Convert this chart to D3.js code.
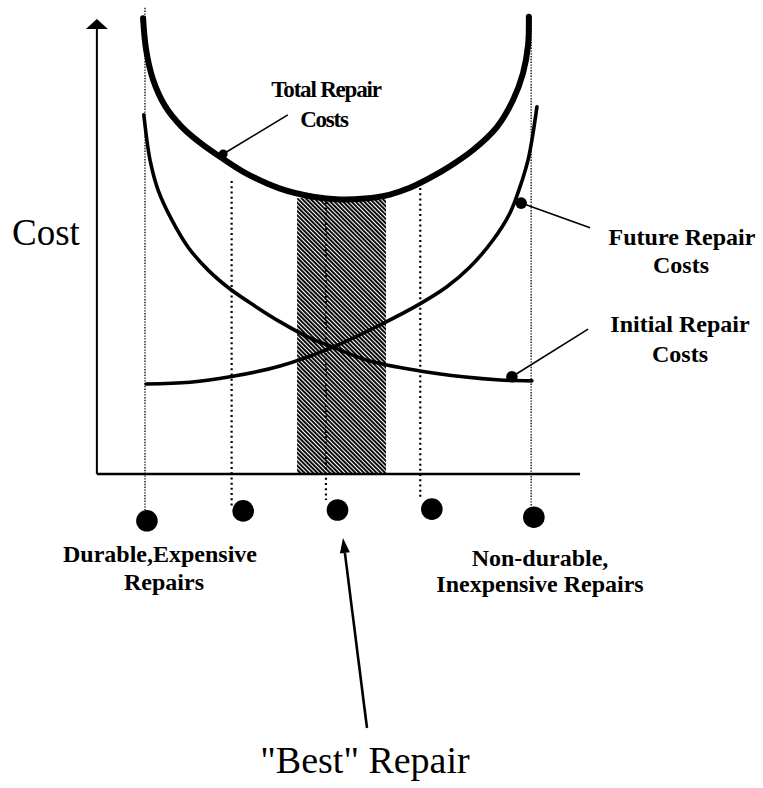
<!DOCTYPE html>
<html>
<head>
<meta charset="utf-8">
<script src="https://cdn.jsdelivr.net/npm/d3@7"></script>
<style>
  html, body { margin: 0; padding: 0; background: #fff; }
  text { font-family: "Liberation Serif", "Times New Roman", Times, serif; fill: #000; }
</style>
</head>
<body>
<svg id="chart" width="763" height="788"></svg>
<script>
// Repair options run along x: 0 = durable, expensive repair; 100 = non-durable, inexpensive repair.
// Cost is in relative units (0 at the horizontal axis).

// Total repair cost (initial + future), a U-shaped curve
const totalRepairCost = [
  [-0.5, 101.3], [0.3, 94.2], [2.1, 87.6], [5.2, 81.8], [9.6, 77.1], [14.8, 73.3],
  [20.0, 70.2], [26.5, 66.7], [35.1, 63.4], [43.6, 61.6], [50.6, 61.0], [57.1, 61.2],
  [63.6, 62.1], [68.8, 63.6], [74.0, 65.8], [79.2, 68.4], [85.2, 72.0], [91.4, 77.1],
  [95.6, 83.1], [98.2, 89.1], [99.5, 95.3], [99.7, 101.6]
];

// Initial repair cost, falling as repairs become less durable
const initialRepairCost = [
  [-0.3, 79.8], [1.3, 69.8], [3.4, 63.1], [7.0, 56.4], [11.2, 50.4], [16.4, 45.3],
  [22.1, 41.1], [28.6, 37.3], [35.1, 33.8], [42.9, 30.2], [48.8, 28.2], [58.4, 25.1],
  [71.4, 22.9], [82.6, 21.6], [92.2, 20.9], [100.5, 20.7]
];

// Future repair cost, rising as repairs become less durable
const futureRepairCost = [
  [0.3, 20.0], [11.7, 20.4], [22.1, 21.6], [35.1, 24.0], [48.8, 28.2], [61.0, 33.1],
  [71.4, 37.8], [78.4, 41.6], [84.4, 46.0], [90.4, 52.0], [94.8, 58.0], [97.4, 63.8],
  [99.5, 69.8], [100.8, 75.8], [101.8, 81.6]
];

// Five candidate repair options: dotted guides and the markers beneath the axis
const optionGuideX      = [0, 22.5, 47, 71.5, 100.3];
const optionGuideTop    = [103.6, 65.1, 60.4, 64.7, 101.6];
const optionGuideBottom = [-8, -7.3, -5.8, -5.8, -7.1];
const optionDotX        = [0.5, 25.5, 50, 74.5, 101];
const optionDotY        = [-10.4, -8.2, -8.0, -7.8, -9.6];

// Range of the "best" repair (lowest total cost)
const bestRange = [39.5, 62.6];
const bestTop = 61.3;

// Leader lines from the curves to their labels: [curve point, label end]
const totalLeader   = [[20.3, 71.1], [37.1, 79.8]];
const futureLeader  = [[97.7, 60.2], [115.6, 54.7]];
const initialLeader = [[95.3, 21.6], [115.1, 32.2]];

// Axis extents
const axisXMin = -12.5, axisXMax = 113, axisYMax = 98.9, axisYTip = 101.1;

const svg = d3.select("#chart");
const x = d3.scaleLinear().domain([0, 100]).range([145, 530]);
const y = d3.scaleLinear().domain([0, 100]).range([474, 24]);

// Diagonal hatching for the optimum band
const pat = svg.append("defs").append("pattern")
  .attr("id", "hatch")
  .attr("patternUnits", "userSpaceOnUse")
  .attr("width", 3).attr("height", 3)
  .attr("patternTransform", "rotate(-45)");
pat.append("rect").attr("width", 3).attr("height", 3).attr("fill", "#fff");
pat.append("rect").attr("width", 1.9).attr("height", 3).attr("fill", "#000");

svg.append("rect")
  .attr("x", x(bestRange[0]))
  .attr("y", y(bestTop))
  .attr("width", x(bestRange[1]) - x(bestRange[0]))
  .attr("height", y(0) - y(bestTop))
  .attr("fill", "url(#hatch)");

// Dotted guides for each option
const last = optionGuideX.length - 1;
svg.append("g").selectAll("line")
  .data(optionGuideX)
  .join("line")
  .attr("x1", d => x(d)).attr("x2", d => x(d))
  .attr("y1", (d, i) => y(optionGuideTop[i]))
  .attr("y2", (d, i) => y(optionGuideBottom[i]))
  .attr("stroke", "#000")
  .attr("stroke-width", (d, i) => (i === 0 || i === last) ? 1.3 : 2.2)
  .attr("stroke-dasharray", (d, i) => (i === 0 || i === last) ? "1.4,1.4" : "2,3.2");

// Option markers
svg.append("g").selectAll("circle")
  .data(optionDotX)
  .join("circle")
  .attr("cx", d => x(d))
  .attr("cy", (d, i) => y(optionDotY[i]))
  .attr("r", 10.8)
  .attr("fill", "#000");

// Cost curves
const line = d3.line().x(d => x(d[0])).y(d => y(d[1])).curve(d3.curveCatmullRom.alpha(0.5));
function drawCurve(data, w) {
  svg.append("path")
    .attr("d", line(data))
    .attr("fill", "none")
    .attr("stroke", "#000")
    .attr("stroke-width", w)
    .attr("stroke-linecap", "round");
}
drawCurve(initialRepairCost, 3.6);
drawCurve(futureRepairCost, 3.6);
drawCurve(totalRepairCost, 6);

// Axes
svg.append("line")
  .attr("x1", x(axisXMin)).attr("x2", x(axisXMax))
  .attr("y1", y(0)).attr("y2", y(0))
  .attr("stroke", "#000").attr("stroke-width", 2.4);
svg.append("line")
  .attr("x1", x(axisXMin)).attr("x2", x(axisXMin))
  .attr("y1", y(0)).attr("y2", y(axisYMax))
  .attr("stroke", "#000").attr("stroke-width", 2);
const ax = x(axisXMin), tipY = y(axisYTip);
svg.append("path")
  .attr("d", `M${ax},${tipY} L${ax - 11},${tipY + 10} L${ax + 11},${tipY + 10} Z`)
  .attr("fill", "#000");

// Leader lines with dots on the curves
function leader(pts, r) {
  svg.append("line")
    .attr("x1", x(pts[0][0])).attr("y1", y(pts[0][1]))
    .attr("x2", x(pts[1][0])).attr("y2", y(pts[1][1]))
    .attr("stroke", "#000").attr("stroke-width", 1.6);
  svg.append("circle")
    .attr("cx", x(pts[0][0])).attr("cy", y(pts[0][1]))
    .attr("r", r).attr("fill", "#000");
}
leader(totalLeader, 4.5);
leader(futureLeader, 5.8);
leader(initialLeader, 5.8);

// Labels
function label(txt, cx, by, size, weight, anchor, spacing) {
  svg.append("text")
    .attr("x", cx).attr("y", by)
    .attr("font-family", "'Liberation Serif', 'Times New Roman', Times, serif")
    .attr("text-anchor", anchor || "middle")
    .attr("font-size", size)
    .attr("font-weight", weight || "normal")
    .attr("letter-spacing", spacing || 0)
    .text(txt);
}
label("Cost", 12, 245, 37, "normal", "start");
label("Total Repair", 326, 97, 23, "bold", "middle", -1.2);
label("Costs", 324, 127, 23, "bold", "middle", -1.2);
label("Future Repair", 682, 245, 24, "bold");
label("Costs", 681, 273, 24, "bold");
label("Initial Repair", 680, 332, 24, "bold");
label("Costs", 680, 362, 24, "bold");
label("Durable,Expensive", 160, 562, 24, "bold");
label("Repairs", 164, 590, 24, "bold");
label("Non-durable,", 540, 566, 24, "bold");
label("Inexpensive Repairs", 540, 592, 24, "bold");
label("\"Best\" Repair", 365, 773, 38, "normal");

// Arrow pointing at the best option
const ar = { x1: 367, y1: 728, x2: 343, y2: 538 };
const ang = Math.atan2(ar.y2 - ar.y1, ar.x2 - ar.x1);
const hl = 15, hw = 5;
const bx = ar.x2 - hl * Math.cos(ang), by = ar.y2 - hl * Math.sin(ang);
svg.append("line")
  .attr("x1", ar.x1).attr("y1", ar.y1).attr("x2", bx).attr("y2", by)
  .attr("stroke", "#000").attr("stroke-width", 2.6);
svg.append("path")
  .attr("d", `M${ar.x2},${ar.y2} L${bx + hw * Math.sin(ang)},${by - hw * Math.cos(ang)} L${bx - hw * Math.sin(ang)},${by + hw * Math.cos(ang)} Z`)
  .attr("fill", "#000");
</script>
</body>
</html>
